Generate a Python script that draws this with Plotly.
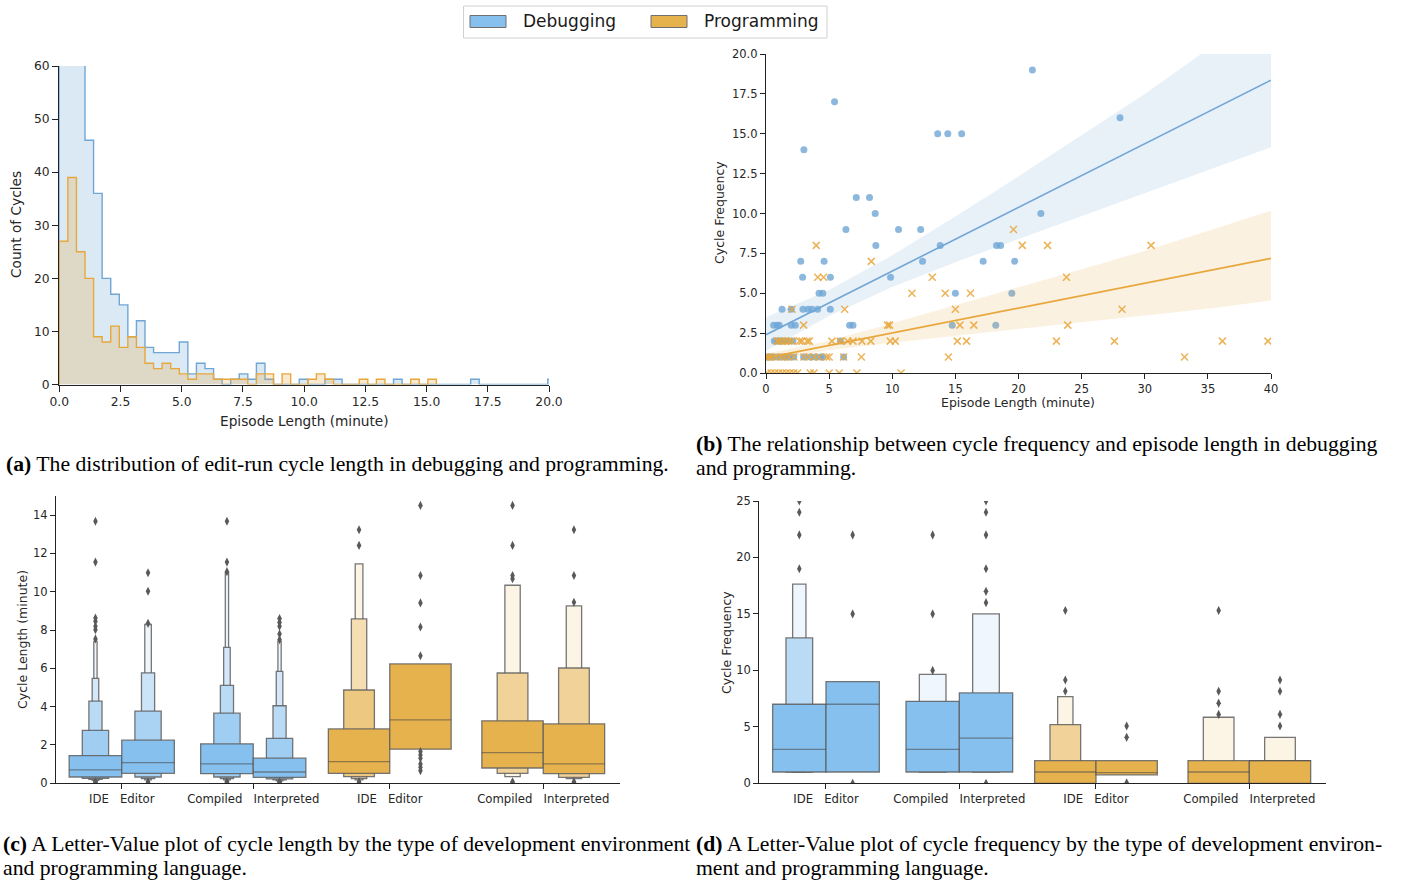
import plotly.graph_objects as go

W, H = 1412, 882
FONT = "DejaVu Sans"
SERIF = "Liberation Serif"
AX = "#222222"
TXT = "#262626"

BLUE = "#6FA6D6"
ORANGE = "#E8A73C"
LV_BLUE = "#86C0EE"
LV_ORANGE = "#E6B24E"
LV_BLUE_LIGHT = "#EFF6FD"
LV_ORANGE_LIGHT = "#FCF4E4"
LV_EDGE = "rgba(95,95,95,0.85)"
LV_MEDIAN = "rgba(70,70,70,0.55)"
OUTLIER = "#595959"

# ---------------- (a) histogram data ----------------
BIN_WIDTH = 0.35
debug_hist_counts = [95, 80, 62, 46, 36, 20, 17, 15, 9, 12,
                     7, 6, 6, 6, 8, 2, 4, 3, 1, 0,
                     1, 2, 1, 4, 1, 0, 0, 0, 1, 0,
                     0, 1, 1, 0, 0, 0, 0, 0, 0, 1,
                     0, 0, 0, 0, 0, 0, 0, 0, 1, 0,
                     0, 0, 0, 0, 0, 0, 0, 1]
prog_hist_counts = [27, 39, 25, 20, 9, 8, 11, 7, 9, 7,
                    4, 3, 4, 3, 2, 1, 2, 2, 1, 1,
                    1, 1, 0, 2, 2, 0, 2, 0, 0, 1,
                    2, 1, 0, 0, 0, 1, 0, 1, 0, 0,
                    0, 1, 0, 1]
hist_ticks = [0, 2.5, 5, 7.5, 10, 12.5, 15, 17.5, 20]

# ---------------- (b) scatter data ----------------
debug_len = [21.1, 5.43, 28.04, 13.6, 14.4, 15.5, 3.0, 7.15, 8.2, 8.65, 21.77,
             6.33, 10.5, 12.25, 8.7, 13.8, 18.26, 18.58,
             2.75, 4.6, 12.4, 17.2, 19.7, 2.9, 5.1, 9.87, 4.2, 4.5, 15.0, 19.47,
             1.27, 2.0, 2.93, 3.33, 3.64, 4.09, 5.09,
             0.6, 0.87, 1.05, 2.0, 2.32, 6.62, 6.89, 14.75, 18.2,
             0.66, 0.87, 1.0, 1.27, 1.5, 1.79, 2.14, 5.9,
             0.08, 0.3, 0.48, 0.82, 1.19, 1.53, 1.79, 2.2, 2.98, 3.5, 3.9, 4.3, 4.5, 6.15]
debug_freq = [19, 17, 16, 15, 15, 15, 14, 11, 11, 10, 10,
              9, 9, 9, 8, 8, 8, 8,
              7, 7, 7, 7, 7, 6, 6, 6, 5, 5, 5, 5,
              4, 4, 4, 4, 4, 4, 4,
              3, 3, 3, 3, 3, 3, 3, 3, 3,
              2, 2, 2, 2, 2, 2, 2, 2,
              1, 1, 1, 1, 1, 1, 1, 1, 1, 1, 1, 1, 1, 1]
prog_len = [19.6, 3.98, 20.3, 22.3, 30.5, 8.34, 4.1, 4.56, 13.17, 23.8,
            11.56, 14.2, 16.2, 2.06, 6.23, 15.0, 28.2,
            2.98, 9.63, 9.79, 15.36, 16.46, 23.9,
            0.87, 1.0, 1.27, 1.53, 1.79, 2.06, 2.66, 2.85, 3.25, 3.43, 5.22, 5.88,
            6.46, 6.89, 7.6, 8.3, 9.84, 10.24, 15.15, 15.88, 23.0, 27.6, 36.15, 39.76,
            0.0, 0.2, 0.4, 0.8, 1.2, 1.5, 1.8, 2.2, 3.0, 3.4, 3.8, 4.2, 4.8, 5.0,
            6.15, 7.55, 14.45, 33.15,
            0.1, 0.4, 0.7, 1.0, 1.3, 1.6, 1.9, 2.2, 2.5, 3.5, 3.8, 5.0, 5.8, 7.2, 10.7]
prog_freq = [9, 8, 8, 8, 8, 7, 6, 6, 6, 6,
             5, 5, 5, 4, 4, 4, 4,
             3, 3, 3, 3, 3, 3,
             2, 2, 2, 2, 2, 2, 2, 2, 2, 2, 2, 2,
             2, 2, 2, 2, 2, 2, 2, 2, 2, 2, 2, 2,
             1, 1, 1, 1, 1, 1, 1, 1, 1, 1, 1, 1, 1, 1,
             1, 1, 1, 1,
             0, 0, 0, 0, 0, 0, 0, 0, 0, 0, 0, 0, 0, 0, 0]
fit_x = [0, 5, 10, 15, 20, 25, 30, 35, 40]
debug_fit = [2.40, 4.39, 6.39, 8.38, 10.38, 12.37, 14.37, 16.36, 18.36]
debug_ci_low = [1.40, 3.58, 5.39, 6.95, 8.43, 9.87, 11.30, 12.72, 14.16]
debug_ci_high = [3.50, 5.20, 7.39, 9.81, 12.33, 14.90, 17.50, 20.30, 23.00]
prog_fit = [0.95, 1.73, 2.51, 3.29, 4.07, 4.85, 5.63, 6.41, 7.19]
prog_ci_low = [0.70, 1.44, 1.90, 2.34, 2.76, 3.19, 3.61, 4.03, 4.55]
prog_ci_high = [1.20, 2.02, 3.12, 4.24, 5.38, 6.51, 7.65, 8.90, 10.18]

# ---------------- (c) / (d) letter-value data ----------------
group_ticktext = ["IDE\u00a0\u00a0\u00a0Editor", "Compiled\u00a0\u00a0\u00a0Interpreted"]

c_debug_levels = [
    [(0.33, 1.45), (0.26, 2.76), (0.20, 4.29), (0.15, 5.48), (0.10, 7.41)],
    [(0.52, 2.25), (0.33, 3.77), (0.25, 5.77), (0.18, 8.29)],
    [(0.50, 2.06), (0.33, 3.66), (0.25, 5.11), (0.18, 7.10), (0.12, 11.0)],
    [(0.31, 1.31), (0.23, 2.35), (0.18, 4.05), (0.13, 5.84), (0.10, 7.41)],
]
c_debug_medians = [0.70, 1.08, 1.01, 0.59]
c_debug_outliers = [
    [0.04, 0.08, 7.54, 8.02, 8.20, 8.46, 8.63, 11.55, 13.68],
    [0.04, 0.08, 8.35, 10.03, 10.99],
    [0.04, 0.08, 11.05, 11.55, 13.68],
    [0.04, 0.08, 7.50, 7.80, 8.20, 8.40, 8.60],
]
c_prog_levels = [
    [(0.52, 2.84), (0.35, 4.87), (0.25, 8.58), (0.18, 11.46)],
    [(1.78, 6.23)],
    [(0.80, 3.26), (0.52, 5.76), (0.35, 10.34)],
    [(0.51, 3.10), (0.31, 6.02), (0.24, 9.26)],
]
c_prog_medians = [1.13, 3.31, 1.60, 1.01]
c_prog_outliers = [
    [0.04, 0.08, 12.42, 13.24],
    [0.66, 0.84, 1.01, 1.31, 1.48, 1.66, 6.66, 8.16, 9.42, 10.85, 14.51],
    [0.04, 0.08, 10.68, 10.85, 12.42, 14.51],
    [0.04, 0.08, 9.45, 10.85, 13.24],
]

d_debug_levels = [
    [(1, 7.0), (1, 12.87), (1, 17.63)],
    [(1, 9.0)],
    [(1, 7.26), (1, 9.65)],
    [(1, 8.0), (1, 15.0)],
]
d_debug_medians = [3, 7, 3, 4]
d_debug_outliers = [[19, 22, 24, 25], [0, 15, 22], [10, 15, 22], [0, 16, 17, 19, 22, 24, 25]]
d_prog_levels = [
    [(0, 2.0), (0, 5.2), (0, 7.68)],
    [(0.75, 2.0)],
    [(0, 2.0), (0, 5.85)],
    [(0, 2.0), (0, 4.07)],
]
d_prog_medians = [1.0, 0.95, 1.0, 2.0]
d_prog_outliers = [[8.15, 9.15, 15.3], [0.05, 4.07, 5.08], [6.1, 7.1, 8.15, 15.3], [5.08, 6.1, 8.15, 9.15]]

legend_names = ["Debugging", "Programming"]


# ---------------- helpers ----------------
def px(x):
    return x / W


def py(y):
    return 1 - y / H


def hex_rgb(h):
    h = h.lstrip("#")
    return tuple(int(h[i:i + 2], 16) for i in (0, 2, 4))


def mix(c1, c2, t):
    a, b = hex_rgb(c1), hex_rgb(c2)
    return "rgb(%d,%d,%d)" % tuple(round(a[i] + (b[i] - a[i]) * t) for i in range(3))


def rgba(h, a):
    r, g, b = hex_rgb(h)
    return "rgba(%d,%d,%d,%s)" % (r, g, b, a)


fig = go.Figure()

# ---------------- (a) histogram ----------------
def step_xy(counts):
    xs, ys = [0.0], [0]
    for i, c in enumerate(counts):
        xs.append(i * BIN_WIDTH)
        ys.append(c)
    xs.append(len(counts) * BIN_WIDTH)
    ys.append(0)
    return xs, ys


for counts, col in ((debug_hist_counts, BLUE), (prog_hist_counts, ORANGE)):
    xs, ys = step_xy(counts)
    fig.add_trace(go.Scatter(x=xs, y=ys, mode="lines", line=dict(color=col, width=1.4, shape="hv"),
                             fill="tozeroy", fillcolor=rgba(col, 0.25), xaxis="x", yaxis="y",
                             showlegend=False, hoverinfo="skip"))

# ---------------- (b) scatter + regression ----------------
for lx, ly, fit, lo, hi, col, sym in (
        (debug_len, debug_freq, debug_fit, debug_ci_low, debug_ci_high, BLUE, "circle"),
        (prog_len, prog_freq, prog_fit, prog_ci_low, prog_ci_high, ORANGE, "x-thin")):
    fig.add_trace(go.Scatter(x=fit_x + fit_x[::-1], y=hi + lo[::-1], mode="lines", fill="toself",
                             fillcolor=rgba(col, 0.16), line=dict(width=0), xaxis="x2", yaxis="y2",
                             showlegend=False, hoverinfo="skip"))
    if sym == "circle":
        mk = dict(symbol="circle", size=7, color=col, opacity=0.8, line=dict(width=0))
    else:
        mk = dict(symbol="x-thin", size=7, color=col, opacity=0.85, line=dict(width=1.5, color=col))
    fig.add_trace(go.Scatter(x=lx, y=ly, mode="markers", marker=mk, xaxis="x2", yaxis="y2",
                             showlegend=False, hoverinfo="skip"))
    fig.add_trace(go.Scatter(x=fit_x, y=fit, mode="lines", line=dict(color=col, width=1.6),
                             xaxis="x2", yaxis="y2", showlegend=False, hoverinfo="skip"))


# ---------------- (c)/(d) letter-value plots ----------------
def draw_lv(xa, ya, levels_all, medians, outliers, base, light):
    for j, (levels, med, outs) in enumerate(zip(levels_all, medians, outliers)):
        pos = j // 2 + (-0.2 if j % 2 == 0 else 0.2)
        n = len(levels)
        for i in reversed(range(n)):
            lo, hi = levels[i]
            w = 0.4 * 0.5 ** i
            col = base if n == 1 else mix(base, light, i / (n - 1))
            fig.add_trace(go.Bar(x=[pos], y=[hi - lo], base=[lo], width=[w],
                                 marker=dict(color=col, line=dict(color=LV_EDGE, width=1.3)),
                                 xaxis=xa, yaxis=ya, showlegend=False, hoverinfo="skip"))
        fig.add_trace(go.Scatter(x=[pos - 0.2, pos + 0.2], y=[med, med], mode="lines",
                                 line=dict(color=LV_MEDIAN, width=1.3), xaxis=xa, yaxis=ya,
                                 showlegend=False, hoverinfo="skip"))
        fig.add_trace(go.Scatter(x=[pos] * len(outs), y=outs, mode="markers",
                                 marker=dict(symbol="diamond-tall", size=6.5, color=OUTLIER),
                                 xaxis=xa, yaxis=ya, showlegend=False, hoverinfo="skip"))


draw_lv("x3", "y3", c_debug_levels, c_debug_medians, c_debug_outliers, LV_BLUE, LV_BLUE_LIGHT)
draw_lv("x4", "y4", c_prog_levels, c_prog_medians, c_prog_outliers, LV_ORANGE, LV_ORANGE_LIGHT)
draw_lv("x5", "y5", d_debug_levels, d_debug_medians, d_debug_outliers, LV_BLUE, LV_BLUE_LIGHT)
draw_lv("x6", "y6", d_prog_levels, d_prog_medians, d_prog_outliers, LV_ORANGE, LV_ORANGE_LIGHT)


# ---------------- axes ----------------
def ax(size=11.5, ticklen=5, lw=1.3, **kw):
    d = dict(showline=True, linecolor=AX, linewidth=lw, ticks="outside", ticklen=ticklen,
             tickwidth=lw, tickcolor=AX, showgrid=False, zeroline=False, automargin=False,
             tickfont=dict(family=FONT, size=size, color=TXT), fixedrange=True)
    d.update(kw)
    return d


hidden_y = dict(visible=False, showgrid=False, zeroline=False, fixedrange=True, automargin=False)

fig.update_layout(
    template="none",
    width=W, height=H, margin=dict(l=0, r=0, t=0, b=0, pad=0, autoexpand=False),
    paper_bgcolor="white", plot_bgcolor="rgba(0,0,0,0)", barmode="overlay", showlegend=False,
    xaxis=ax(12.3, 6, 1.4, domain=[px(59.3), px(549)], range=[0, 20], tickvals=hist_ticks,
             tickformat=".1f", anchor="y"),
    yaxis=ax(12.3, 6, 1.4, domain=[py(384.5), py(66)], range=[0, 60], tickvals=list(range(0, 61, 10)),
             anchor="x"),
    xaxis2=ax(11.5, 5, 1.3, domain=[px(766), px(1271)], range=[0, 40], tickvals=list(range(0, 41, 5)),
              anchor="y2"),
    yaxis2=ax(11.5, 5, 1.3, domain=[py(373), py(54)], range=[0, 20],
              tickvals=[0, 2.5, 5, 7.5, 10, 12.5, 15, 17.5, 20], tickformat=".1f", anchor="x2"),
    xaxis3=ax(11.7, 5, 1.3, domain=[px(56), px(319)], range=[-0.5, 1.5], tickvals=[0, 1],
              ticktext=group_ticktext, anchor="y3"),
    yaxis3=ax(11.5, 5, 1.3, domain=[py(783.3), py(496)], range=[0, 15],
              tickvals=list(range(0, 15, 2)), anchor="x3"),
    xaxis4=ax(11.7, 5, 1.3, domain=[px(313), px(620)], range=[-0.5, 1.5], tickvals=[0, 1],
              ticktext=group_ticktext, anchor="y4"),
    yaxis4=dict(hidden_y, domain=[py(783.3), py(496)], range=[0, 15], anchor="x4"),
    xaxis5=ax(11.7, 5, 1.3, domain=[px(759.3), px(1026)], range=[-0.5, 1.5], tickvals=[0, 1],
              ticktext=group_ticktext, anchor="y5"),
    yaxis5=ax(11.5, 5, 1.3, domain=[py(783.3), py(501)], range=[0, 25],
              tickvals=list(range(0, 26, 5)), anchor="x5"),
    xaxis6=ax(11.7, 5, 1.3, domain=[px(1019.3), px(1326)], range=[-0.5, 1.5], tickvals=[0, 1],
              ticktext=group_ticktext, anchor="y6"),
    yaxis6=dict(hidden_y, domain=[py(783.3), py(501)], range=[0, 25], anchor="x6"),
)

# ---------------- text: axis titles, captions, legend ----------------
annotations = []


def txt(x, y, s, size, family=FONT, angle=0, xanchor="center", color=TXT):
    annotations.append(dict(x=px(x), y=py(y), xref="paper", yref="paper", text=s, showarrow=False,
                            textangle=angle, xanchor=xanchor, yanchor="middle",
                            font=dict(family=family, size=size, color=color)))


txt(16, 225, "Count of Cycles", 13.7, angle=-90)
txt(304, 421, "Episode Length (minute)", 13.7)
txt(720, 213, "Cycle Frequency", 12.5, angle=-90)
txt(1018, 402, "Episode Length (minute)", 12.5)
txt(22, 640, "Cycle Length (minute)", 12.5, angle=-90)
txt(726, 643, "Cycle Frequency", 12.5, angle=-90)

CAP = 21.7
txt(4, 464, "<b>(a)</b> The distribution of edit-run cycle length in debugging and programming.",
    CAP, SERIF, xanchor="left", color="#000")
txt(694, 444, "<b>(b)</b> The relationship between cycle frequency and episode length in debugging",
    CAP, SERIF, xanchor="left", color="#000")
txt(694, 468, "and programming.", CAP, SERIF, xanchor="left", color="#000")
txt(1, 844, "<b>(c)</b> A Letter-Value plot of cycle length by the type of development environment",
    CAP, SERIF, xanchor="left", color="#000")
txt(1, 868, "and programming language.", CAP, SERIF, xanchor="left", color="#000")
txt(694, 844, "<b>(d)</b> A Letter-Value plot of cycle frequency by the type of development environ-",
    CAP, SERIF, xanchor="left", color="#000")
txt(694, 868, "ment and programming language.", CAP, SERIF, xanchor="left", color="#000")

# legend
shapes = [dict(type="rect", xref="paper", yref="paper", x0=px(463.5), x1=px(827), y0=py(38), y1=py(6),
               line=dict(color="#d0d0d0", width=1), fillcolor="white")]
for (x0, name, col) in ((470, legend_names[0], LV_BLUE), (651, legend_names[1], LV_ORANGE)):
    shapes.append(dict(type="rect", xref="paper", yref="paper", x0=px(x0), x1=px(x0 + 36),
                       y0=py(27.5), y1=py(15.5), line=dict(color="#6f6f6f", width=1), fillcolor=col))
    txt(x0 + 51, 21, name, 17, xanchor="left", color="#1a1a1a")

fig.update_layout(annotations=annotations, shapes=shapes)

POST = ("var s=document.createElement('style');"
        "s.innerHTML='html,body{margin:0 !important;padding:0 !important;overflow:hidden !important;}';"
        "document.head.appendChild(s);")
fig.write_html("out.html", config={"displayModeBar": False, "responsive": False}, post_script=POST)
